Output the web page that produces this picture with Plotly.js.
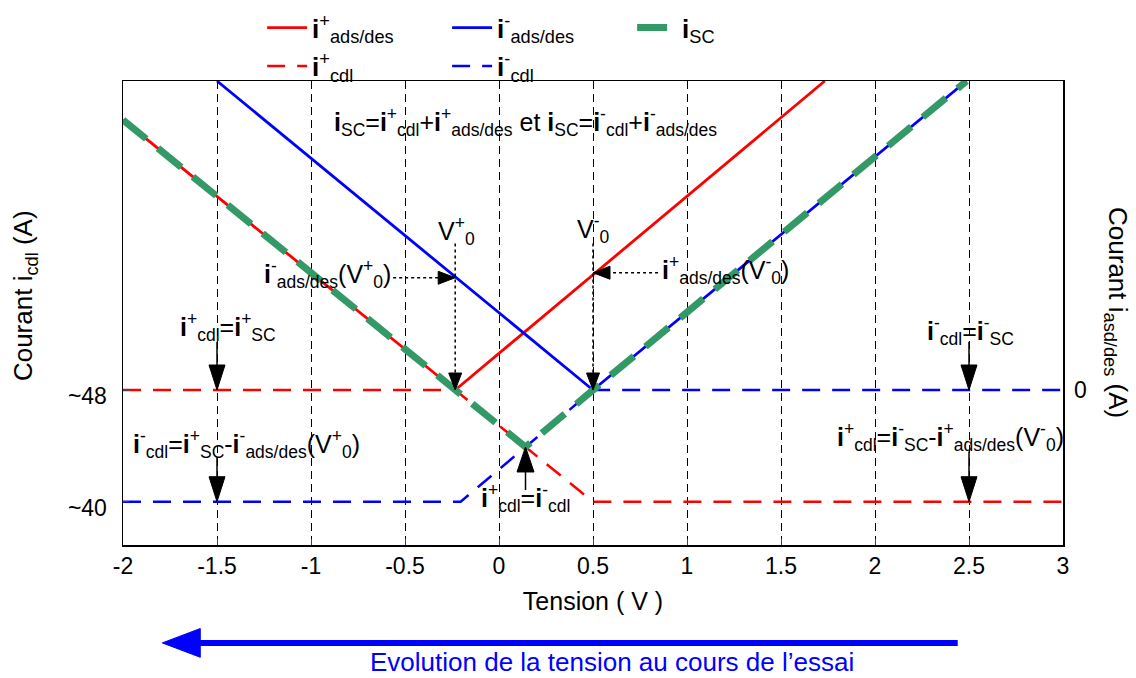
<!DOCTYPE html>
<html><head><meta charset="utf-8">
<script src="https://cdn.plot.ly/plotly-3.0.1.min.js"></script>
<style>body{margin:0;background:#fff}</style></head>
<body><div id="chart" style="width:1136px;height:678px"></div>
<script>
// ---- data (Tension in V, courant in arbitrary axis units) ----
const tensionAdsPlus  = [-2, -0.233, 1.733];
const courantAdsPlus  = [67.34, 48, 70.13];
const tensionAdsMinus = [-1.5, 0.5, 2.487];
const courantAdsMinus = [70.13, 48, 70.13];
const tensionSC       = [-2, -0.233, 0.141, 0.5, 2.487];
const courantSC       = [67.34, 48, 43.92, 48, 70.13];
const tensionCdlPlus  = [-2, -0.233, 0.5, 3];
const courantCdlPlus  = [48, 48, 40, 40];
const tensionCdlMinus = [-2, -0.204, 0.5, 3];
const courantCdlMinus = [40, 40, 48, 48];
const xTickVals = [-2, -1.5, -1, -0.5, 0, 0.5, 1, 1.5, 2, 2.5, 3];
const xTickText = ['-2', '-1.5', '-1', '-0.5', '0', '0.5', '1', '1.5', '2', '2.5', '3'];
const yTickVals = [40, 48];
const yTickText = ['~40', '~48'];
const y2TickVals = [48];
const y2TickText = ['0'];

const FONT = 'Liberation Sans, Arial, sans-serif';
const I = '<b>i</b>';

const traces = [
  {x: tensionCdlPlus, y: courantCdlPlus, mode: 'lines', name: I + '<sup>+</sup><sub>cdl</sub>',
   line: {color: '#ff0000', width: 2.5, dash: '18px,12px'}, legend: 'legend2'},
  {x: tensionCdlMinus, y: courantCdlMinus, mode: 'lines', name: I + '<sup>-</sup><sub>cdl</sub>',
   line: {color: '#0000ff', width: 2.5, dash: '18px,12px'}, legend: 'legend2'},
  {x: tensionAdsPlus, y: courantAdsPlus, mode: 'lines', name: I + '<sup>+</sup><sub>ads/des</sub>',
   line: {color: '#ff0000', width: 2.8}, legend: 'legend'},
  {x: tensionAdsMinus, y: courantAdsMinus, mode: 'lines', name: I + '<sup>-</sup><sub>ads/des</sub>',
   line: {color: '#0000ff', width: 2.8}, legend: 'legend'},
  {x: tensionSC, y: courantSC, mode: 'lines', name: I + '<sub>SC</sub>',
   line: {color: '#339966', width: 7, dash: '30px,15px'}, legend: 'legend'},
  {x: [0], y: [48], yaxis: 'y2', mode: 'markers', marker: {opacity: 0}, showlegend: false, hoverinfo: 'skip'}
];

const shapes = [];
const annotations = [];
function shaft(x0, y0, x1, y1, dash) {
  shapes.push({type: 'line', xref: 'x', yref: 'y', x0: x0, y0: y0, x1: x1, y1: y1,
    line: {color: '#000', width: 1.5, dash: dash || 'solid'}});
}
function head(x, y, dir, len, hw) {
  let p;
  if (dir === 'down') p = `M0,0 L${-hw},${len} L${hw},${len} Z`;
  else if (dir === 'up') p = `M0,0 L${-hw},${-len} L${hw},${-len} Z`;
  else if (dir === 'right') p = `M0,0 L${-len},${hw} L${-len},${-hw} Z`;
  else p = `M0,0 L${len},${hw} L${len},${-hw} Z`;
  shapes.push({type: 'path', xref: 'x', yref: 'y', xsizemode: 'pixel', ysizemode: 'pixel',
    xanchor: x, yanchor: y, path: p, fillcolor: '#000', line: {color: '#000', width: 1}});
}
function label(x, y, text, xanchor, size) {
  annotations.push({x: x, y: y, xref: 'x', yref: 'y', text: text, showarrow: false,
    xanchor: xanchor || 'center', yanchor: 'middle', font: {family: FONT, size: size || 25, color: '#000'}});
}

// vertical solid arrows
shaft(-1.5, 51.45, -1.5, 49); head(-1.5, 48, 'down', 25, 8);
shaft(-1.5, 43.2, -1.5, 41); head(-1.5, 40, 'down', 25, 8);
shaft(2.5, 51.45, 2.5, 49); head(2.5, 48, 'down', 25, 8);
shaft(2.5, 43.6, 2.5, 41); head(2.5, 40, 'down', 25, 8);
shaft(0.141, 40.84, 0.141, 43); head(0.141, 43.92, 'up', 25, 8.5);
// dotted arrows
shaft(-0.233, 58.5, -0.233, 49, 'dot'); head(-0.233, 48, 'down', 17, 6.5);
shaft(0.5, 58.5, 0.5, 49, 'dot'); head(0.5, 48, 'down', 17, 6.5);
shaft(-0.563, 56.04, -0.3, 56.04, 'dot'); head(-0.233, 56.04, 'right', 17, 6.5);
shaft(0.846, 56.4, 0.57, 56.4, 'dot'); head(0.5, 56.4, 'left', 17, 6.5);

// texts
label(0.139, 67.17, I + '<sub>SC</sub>=' + I + '<sup>+</sup><sub>cdl</sub>+' + I + '<sup>+</sup><sub>ads/des</sub> et ' +
      I + '<sub>SC</sub>=' + I + '<sup>-</sup><sub>cdl</sub>+' + I + '<sup>-</sup><sub>ads/des</sub>', 'center');
label(-0.226, 59.4, 'V<sup>+</sup><sub>0</sub>', 'center');
label(0.5, 59.5, 'V<sup>-</sup><sub>0</sub>', 'center');
label(-0.563, 56.3, I + '<sup>-</sup><sub>ads/des</sub>(V<sup>+</sup><sub>0</sub>)', 'right');
label(0.859, 56.6, I + '<sup>+</sup><sub>ads/des</sub>(V<sup>-</sup><sub>0</sub>)', 'left');
label(-1.44, 52.5, I + '<sup>+</sup><sub>cdl</sub>=' + I + '<sup>+</sup><sub>SC</sub>', 'center');
label(-1.343, 44.1, I + '<sup>-</sup><sub>cdl</sub>=' + I + '<sup>+</sup><sub>SC</sub>-' + I + '<sup>-</sup><sub>ads/des</sub>(V<sup>+</sup><sub>0</sub>)', 'center');
label(0.139, 40.3, I + '<sup>+</sup><sub>cdl</sub>=' + I + '<sup>-</sup><sub>cdl</sub>', 'center');
label(2.51, 52.2, I + '<sup>-</sup><sub>cdl</sub>=' + I + '<sup>-</sup><sub>SC</sub>', 'center');
label(2.40, 44.6, I + '<sup>+</sup><sub>cdl</sub>=' + I + '<sup>-</sup><sub>SC</sub>-' + I + '<sup>+</sup><sub>ads/des</sub>(V<sup>-</sup><sub>0</sub>)', 'center');

// axis titles as annotations
annotations.push({xref: 'paper', yref: 'paper', x: -0.104, y: 0.537, xanchor: 'center', yanchor: 'middle',
  text: 'Courant i<sub>cdl</sub> (A)', textangle: -90, showarrow: false, font: {family: FONT, size: 26, color: '#000'}});
annotations.push({xref: 'paper', yref: 'paper', x: 1.0574, y: 0.5, xanchor: 'center', yanchor: 'middle',
  text: 'Courant i<sub>asd/des</sub> (A)', textangle: 90, showarrow: false, font: {family: FONT, size: 26, color: '#000'}});

// bottom evolution arrow
shapes.push({type: 'line', xref: 'paper', yref: 'paper', x0: 0.888, y0: -0.211, x1: 0.07, y1: -0.211,
  line: {color: '#0000ff', width: 6}});
shapes.push({type: 'path', xref: 'paper', yref: 'paper',
  path: 'M 0.0418,-0.211 L 0.0822,-0.180 L 0.0822,-0.242 Z', fillcolor: '#0000ff', line: {color: '#0000ff', width: 1}});
annotations.push({xref: 'paper', yref: 'paper', x: 0.520, y: -0.253, xanchor: 'center', yanchor: 'middle',
  text: 'Evolution de la tension au cours de l\u2019essai',
  showarrow: false, font: {family: FONT, size: 26, color: '#0000ff'}});

const legendBase = {orientation: 'h', xanchor: 'left', yanchor: 'middle', entrywidth: 130, entrywidthmode: 'pixels',
  itemwidth: 40, font: {family: FONT, size: 26, color: '#000'}, bgcolor: 'rgba(0,0,0,0)', borderwidth: 0};

const layout = {
  width: 1136, height: 678,
  margin: {l: 123, r: 73, t: 81, b: 133, autoexpand: false},
  paper_bgcolor: '#fff', plot_bgcolor: '#fff',
  showlegend: true,
  legend: Object.assign({}, legendBase, {x: 0.148, y: 1.115}),
  legend2: Object.assign({}, legendBase, {x: 0.148, y: 1.032}),
  xaxis: {range: [-2, 3], tickvals: xTickVals, ticktext: xTickText, ticks: 'inside', ticklen: 6,
    showline: true, mirror: true, linecolor: '#000', linewidth: 1.5, zeroline: false,
    showgrid: true, gridcolor: '#000', gridwidth: 1, griddash: '8px,5px',
    tickfont: {family: FONT, size: 23, color: '#000'},
    title: {text: 'Tension ( V )', font: {family: FONT, size: 25, color: '#000'}, standoff: 14}},
  yaxis: {range: [36.9, 70.13], tickvals: yTickVals, ticktext: yTickText, ticks: 'inside', ticklen: 6,
    showline: true, mirror: true, linecolor: '#000', linewidth: 1.5, zeroline: false, showgrid: false,
    ticklabelstandoff: 10, ticklabelshift: 6,
    tickfont: {family: FONT, size: 23, color: '#000'}},
  yaxis2: {range: [36.9, 70.13], overlaying: 'y', side: 'right', tickvals: y2TickVals, ticktext: y2TickText,
    ticks: '', showline: false, showgrid: false, zeroline: false, ticklabelstandoff: 10,
    tickfont: {family: FONT, size: 23, color: '#000'}},
  shapes: shapes,
  annotations: annotations
};

Plotly.newPlot('chart', traces, layout, {displayModeBar: false, staticPlot: true});
</script>
</body></html>
